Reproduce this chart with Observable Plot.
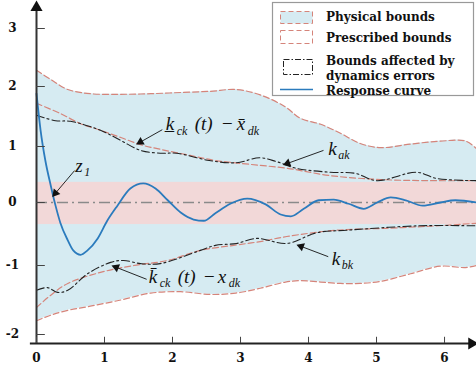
<!DOCTYPE html>
<html><head><meta charset="utf-8">
<script src="https://cdn.jsdelivr.net/npm/d3@7"></script>
<script src="https://cdn.jsdelivr.net/npm/@observablehq/plot@0.6"></script>
<style>body{margin:0;background:#fff}</style>
</head><body><div id="chart"></div>
<script>
// ---- data ----
const xTicks = [0, 1, 2, 3, 4, 5, 6];
const yTicks = [-2, -1, 0, 1, 2, 3];

const physX     = [0, 0.21, 0.46, 0.79, 1.24, 1.68, 2.12, 2.56, 2.93, 3.29, 3.66, 3.88, 4.18, 4.47, 4.76, 5.06, 5.5, 5.94, 6.31, 6.47];
const physUpper = [2.28, 2.12, 1.95, 1.88, 1.87, 1.88, 1.9, 1.92, 1.95, 1.86, 1.66, 1.47, 1.37, 1.22, 1.05, 0.98, 1.04, 1.09, 1.09, 0.96];
const physLower = [-1.8, -1.72, -1.65, -1.59, -1.5, -1.4, -1.38, -1.42, -1.4, -1.33, -1.24, -1.22, -1.24, -1.26, -1.26, -1.23, -1.12, -1.01, -1.03, -1.0];

const presUpX = [0, 0.35, 0.65, 0.94, 1.24, 1.53, 1.82, 2.26, 2.63, 3.15, 3.69, 4.32, 5.06, 5.79, 6.47];
const presUpY = [1.72, 1.55, 1.38, 1.27, 1.15, 1.03, 0.95, 0.84, 0.75, 0.68, 0.61, 0.48, 0.41, 0.39, 0.39];
const presLoX = [0, 0.21, 0.46, 0.94, 1.43, 1.93, 2.41, 2.9, 3.29, 3.68, 4.41, 5.15, 5.88, 6.47];
const presLoY = [-1.61, -1.43, -1.26, -1.10, -1.0, -0.92, -0.76, -0.68, -0.62, -0.54, -0.44, -0.41, -0.37, -0.33];

const dynUpX = [0, 0.28, 0.5, 0.94, 1.24, 1.53, 1.82, 2.06, 2.54, 2.94, 3.28, 3.53, 3.82, 4.32, 4.69, 5.0, 5.59, 5.88, 6.47];
const dynUpY = [1.52, 1.43, 1.42, 1.27, 1.1, 0.93, 0.88, 0.88, 0.75, 0.71, 0.80, 0.73, 0.61, 0.54, 0.52, 0.39, 0.54, 0.43, 0.39];
const dynLoX = [0, 0.16, 0.31, 0.46, 0.75, 1.09, 1.28, 1.53, 1.82, 2.41, 2.63, 2.94, 3.24, 3.68, 4.12, 4.56, 5.63, 6.47];
const dynLoY = [-1.36, -1.32, -1.39, -1.36, -1.12, -0.95, -0.92, -0.97, -0.97, -0.76, -0.68, -0.65, -0.57, -0.65, -0.48, -0.44, -0.37, -0.37];

const respX = [0, 0.06, 0.13, 0.21, 0.28, 0.35, 0.46, 0.54, 0.65, 0.75, 0.9, 1.04, 1.19, 1.38, 1.57, 1.75, 1.93, 2.12, 2.31, 2.46, 2.63, 2.85, 3.1, 3.37, 3.59, 3.74, 3.93, 4.15, 4.37, 4.59, 4.81, 5.01, 5.21, 5.43, 5.68, 5.94, 6.16, 6.47];
const respY = [1.88, 1.27, 0.75, 0.30, -0.05, -0.32, -0.60, -0.76, -0.83, -0.76, -0.57, -0.29, -0.05, 0.25, 0.34, 0.25, 0.04, -0.16, -0.27, -0.29, -0.17, -0.02, 0.07, -0.03, -0.19, -0.22, -0.1, 0.04, 0.05, -0.02, -0.1, 0, 0.09, 0.04, -0.05, 0, 0.04, 0];

const bandLow = -0.35, bandHigh = 0.36;
const xMax = 6.47;
const yMin = -2.13, yMax = 3.48;

// annotation pointers: label end -> curve point
const pointerX1 = [1.85, 4.22, 4.29, 1.62, 0.56];
const pointerY1 = [1.28, 0.93, -0.86, -1.2, 0.57];
const pointerX2 = [1.49, 3.65, 3.85, 1.13, 0.25];
const pointerY2 = [1.05, 0.68, -0.68, -1.01, 0.125];

const legendLabels = ["Physical bounds", "Prescribed bounds", "Bounds affected by", "dynamics errors", "Response curve"];

// ---- build tables ----
const xDomain = [0, xMax], xRange = [36, 476];
const yDomain = [yMin, -2, -1, 0, 1, 2, 3, yMax], yRange = [343, 334, 265, 202, 146, 86, 28, 0];
const xs = d3.scaleLinear(xDomain, xRange), ys = d3.scaleLinear(yDomain, yRange);

const phys = physX.map((x, i) => ({x, hi: physUpper[i], lo: physLower[i]}));
const pts = (xa, ya) => xa.map((x, i) => ({x, y: ya[i]}));
const presUp = pts(presUpX, presUpY), presLo = pts(presLoX, presLoY);
const dynUp = pts(dynUpX, dynUpY), dynLo = pts(dynLoX, dynLoY);
const resp = pts(respX, respY);
const pointers = pointerX1.map((x1, i) => {
  const x2 = pointerX2[i], y1 = pointerY1[i], y2 = pointerY2[i];
  const px = xs(x2) - xs(x1), py = ys(y2) - ys(y1);
  const L = Math.hypot(px, py), back = 3 / L;
  return {x1, y1, x2, y2, hx: x2 - (x2 - x1) * back, hy: y2 - (y2 - y1) * back,
          rot: Math.atan2(px, -py) * 180 / Math.PI};
});

const RED = "#d5847a", BLUE_FILL = "#d6ebf2", PINK = "#f2d8d8", RESP = "#2b7bbd";
const dashRed = {stroke: RED, strokeWidth: 1.2, strokeDasharray: "6,3", curve: "catmull-rom"};
const dashDot = {stroke: "#222", strokeWidth: 1.1, strokeDasharray: "8,3,2,3", curve: "catmull-rom"};
const mathFont = {fontFamily: "Liberation Serif", fontStyle: "italic", fill: "#111", textAnchor: "start", lineAnchor: "middle"};
const tickFont = {fontFamily: "DejaVu Serif", fontWeight: "bold", fontSize: 12, fill: "#111"};

function label(x, y, parts) {
  return parts.map(([t, dx, dy, size]) => Plot.text([0], {x: () => x, y: () => y, text: () => t, dx, dy, fontSize: size, ...mathFont}));
}

const plot = Plot.plot({
  width: 476, height: 371,
  x: {type: "linear", domain: xDomain, range: xRange, axis: null},
  y: {type: "linear", domain: yDomain, range: yRange, axis: null},
  style: {fontFamily: "DejaVu Serif", background: "#fff"},
  marks: [
    Plot.areaY(phys, {x: "x", y1: "lo", y2: "hi", fill: BLUE_FILL, curve: "catmull-rom"}),
    Plot.rect([0], {x1: 0, x2: xMax, y1: bandLow, y2: bandHigh, fill: PINK}),
    Plot.ruleY([0], {x1: 0, x2: xMax, stroke: "#8a8a8a", strokeWidth: 1.6, strokeDasharray: "11,4,2,4"}),
    Plot.line(phys, {x: "x", y: "hi", ...dashRed}),
    Plot.line(phys, {x: "x", y: "lo", ...dashRed}),
    Plot.line(presUp, {x: "x", y: "y", ...dashRed}),
    Plot.line(presLo, {x: "x", y: "y", ...dashRed}),
    Plot.line(dynUp, {x: "x", y: "y", ...dashDot}),
    Plot.line(dynLo, {x: "x", y: "y", ...dashDot}),
    Plot.line(resp, {x: "x", y: "y", stroke: RESP, strokeWidth: 1.8, curve: "monotone-x"}),
    // axes
    Plot.ruleX([0], {y1: yMin, y2: 3.4, stroke: "#333", strokeWidth: 2}),
    Plot.ruleY([yMin], {x1: -0.09, x2: 6.38, stroke: "#222", strokeWidth: 2}),
    Plot.dot([0], {x: 0, y: 3.36, symbol: "triangle", r: 4.5, fill: "#111", stroke: null}),
    Plot.dot([0], {x: 6.4, y: yMin, symbol: "triangle", r: 4.5, fill: "#111", stroke: null, rotate: 90}),
    Plot.ruleY(yTicks, {y: d => d, x1: 0, x2: 0.13, stroke: "#444", strokeWidth: 1}),
    Plot.ruleX(xTicks, {x: d => d, y1: yMin, y2: -2.04, stroke: "#444", strokeWidth: 1}),
    Plot.text(yTicks, {x: 0, y: d => d, text: d => String(d), dx: -24, textAnchor: "middle", ...tickFont}),
    Plot.text(xTicks, {x: d => d, y: yMin, text: d => String(d), dy: 15, textAnchor: "middle", ...tickFont}),
    // annotation pointers with filled heads
    Plot.link(pointers, {x1: "x1", y1: "y1", x2: "hx", y2: "hy", stroke: "#111", strokeWidth: 0.9}),
    Plot.dot(pointers, {x: "hx", y: "hy", rotate: "rot", symbol: "triangle", r: 3.2, fill: "#111", stroke: null}),
    // math labels
    ...label(1.90, 1.38, [["k\u0332", 0, 0, 19], ["ck", 11, 7, 12], ["(t)", 29, 0, 19], ["\u2212", 55, 0, 19], ["x\u0304", 71, 0, 19], ["dk", 82, 7, 12]]),
    ...label(1.65, -1.17, [["k\u0304", 0, 0, 19], ["ck", 11, 6, 12], ["(t)", 29, 0, 19], ["\u2212", 54, 0, 19], ["x", 69, 0, 19], ["dk", 80, 6, 12]]),
    ...label(4.29, 0.96, [["k", 0, 0, 19], ["ak", 10, 6, 12]]),
    ...label(4.34, -0.89, [["k", 0, 0, 19], ["bk", 10, 7, 12]]),
    ...label(0.57, 0.66, [["z", 0, 0, 19], ["1", 9, 7, 12]])
  ]
});
document.getElementById("chart").appendChild(plot);

// ---- in-plot legend ----
const svg = d3.select(plot.tagName.toLowerCase() === "svg" ? plot : plot.querySelector("svg"));
const g = svg.append("g").attr("text-anchor", "start");
g.append("rect").attr("x", 272.5).attr("y", 2.5).attr("width", 201).attr("height", 93)
  .attr("fill", "#fff").attr("stroke", "#999").attr("stroke-width", 1.2);
g.append("rect").attr("x", 280.5).attr("y", 11.5).attr("width", 32).attr("height", 12)
  .attr("fill", BLUE_FILL).attr("stroke", RED).attr("stroke-dasharray", "5,3");
g.append("rect").attr("x", 280.5).attr("y", 30.5).attr("width", 32).attr("height", 13)
  .attr("fill", "none").attr("stroke", RED).attr("stroke-dasharray", "5,3");
g.append("rect").attr("x", 283.5).attr("y", 59.5).attr("width", 29).attr("height", 15)
  .attr("fill", "none").attr("stroke", "#222").attr("stroke-dasharray", "6,2,1.5,2");
g.append("line").attr("x1", 280).attr("x2", 313).attr("y1", 89.5).attr("y2", 89.5)
  .attr("stroke", RESP).attr("stroke-width", 1.5);
const ly = [17, 37.5, 61, 76, 91];
legendLabels.forEach((t, i) => {
  g.append("text").attr("x", 326).attr("y", ly[i]).attr("dy", "0.35em")
    .attr("text-anchor", "start")
    .attr("font-family", "DejaVu Serif").attr("font-weight", "bold").attr("font-size", 12)
    .attr("fill", "#111").text(t);
});
</script>
</body></html>
